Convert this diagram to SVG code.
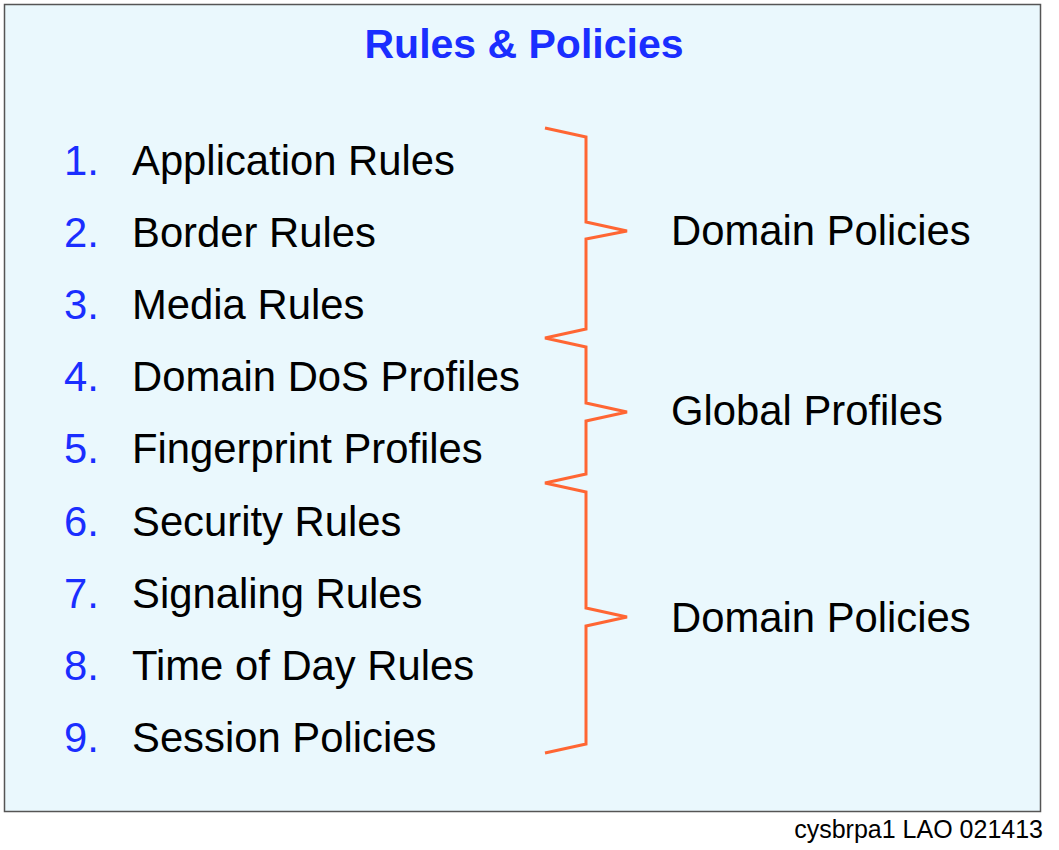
<svg xmlns="http://www.w3.org/2000/svg" width="1059" height="850" viewBox="0 0 1059 850">
<style>
.t{font-family:"Liberation Sans",Arial,Helvetica,sans-serif;font-size:41.8px;fill:#000}
.n{font-family:"Liberation Sans",Arial,Helvetica,sans-serif;font-size:41.8px;fill:#1a2eff}
.title{font-family:"Liberation Sans",Arial,Helvetica,sans-serif;font-size:41px;font-weight:bold;fill:#1a2eff}
.foot{font-family:"Liberation Sans",Arial,Helvetica,sans-serif;font-size:25px;fill:#000}
.br{fill:none;stroke:#ff6633;stroke-width:3;stroke-linejoin:miter}
</style>
<rect x="0" y="0" width="1059" height="850" fill="#ffffff"/>
<rect id="frame" x="4.5" y="4.5" width="1036" height="807" fill="#eaf8fd" stroke="#555555" stroke-width="1.5"/>
<text id="title" class="title" x="524" y="58" text-anchor="middle">Rules &amp; Policies</text>
<g id="list">
<g id="item1"><text class="n" x="64" y="174.5">1.</text><text class="t" x="132" y="174.5">Application Rules</text></g>
<g id="item2"><text class="n" x="64" y="246.7">2.</text><text class="t" x="132" y="246.7">Border Rules</text></g>
<g id="item3"><text class="n" x="64" y="318.9">3.</text><text class="t" x="132" y="318.9">Media Rules</text></g>
<g id="item4"><text class="n" x="64" y="391.1">4.</text><text class="t" x="132" y="391.1">Domain DoS Profiles</text></g>
<g id="item5"><text class="n" x="64" y="463.3">5.</text><text class="t" x="132" y="463.3">Fingerprint Profiles</text></g>
<g id="item6"><text class="n" x="64" y="535.5">6.</text><text class="t" x="132" y="535.5">Security Rules</text></g>
<g id="item7"><text class="n" x="64" y="607.7">7.</text><text class="t" x="132" y="607.7">Signaling Rules</text></g>
<g id="item8"><text class="n" x="64" y="679.9">8.</text><text class="t" x="132" y="679.9">Time of Day Rules</text></g>
<g id="item9"><text class="n" x="64" y="752.1">9.</text><text class="t" x="132" y="752.1">Session Policies</text></g>
</g>
<g id="connectors">
<polyline class="br" points="545,128 586,137 586,222 627,231 586,239 586,329 545,338 586,347 586,403 627,412 586,421 586,474 545,483 586,492 586,608 627,617 586,626 586,744 545,753"/>
</g>
<g id="group-domain1"><text class="t" x="671" y="245">Domain Policies</text></g>
<g id="group-global"><text class="t" x="671" y="425">Global Profiles</text></g>
<g id="group-domain2"><text class="t" x="671" y="632">Domain Policies</text></g>
<text id="footer" class="foot" x="1043" y="838" text-anchor="end">cysbrpa1 LAO 021413</text>
</svg>
